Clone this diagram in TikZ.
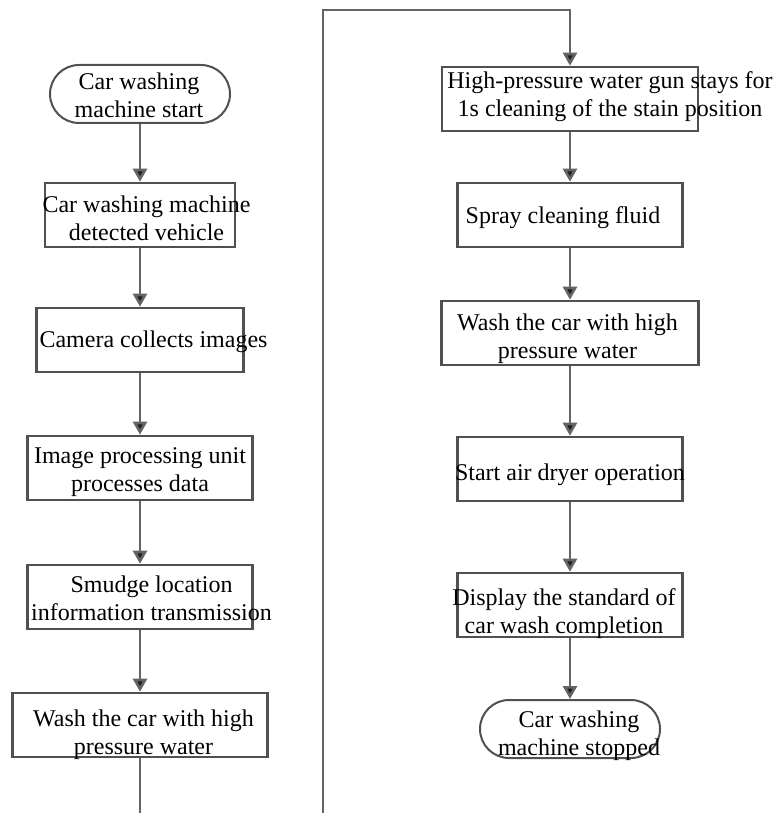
\documentclass[tikz,border=0pt]{standalone}
\usepackage{fontspec}
\setmainfont{Liberation Serif}
\usetikzlibrary{arrows.meta}
\definecolor{boxgray}{RGB}{80,80,80}
\definecolor{linegray}{RGB}{100,100,100}
\definecolor{tipgray}{RGB}{30,30,30}
% text placed freely over a box of fixed size: shift right, baseline of first line below centre
\newcommand{\boxtext}[3]{\makebox[0pt]{\hspace*{#1}\raisebox{#2}[0pt][0pt]{\begin{tabular}[t]{@{}c@{}}#3\end{tabular}}}}
\tikzset{
    stepbox/.style={draw=boxgray, line width=2.6pt, inner sep=0pt, minimum height=64pt},
    termbox/.style={draw=boxgray, line width=2pt, rounded corners=29pt, inner sep=0pt, minimum width=180pt, minimum height=58pt},
    flow/.style={draw=linegray, line width=2.6pt, -{Triangle[length=13pt,width=14pt,fill=tipgray]}}
}
\begin{document}
\begin{tikzpicture}[x=1pt, y=-1pt, font=\fontsize{24}{28}\selectfont]
    \useasboundingbox (0,0) rectangle (774,813);
    % left column
    \node[termbox] (start) at (140,94) {\boxtext{-2pt}{4pt}{Car washing\\machine start}};
    \node[stepbox, minimum width=190pt] (detect) at (140,215) {\boxtext{13pt}{3pt}{Car washing machine\\detected vehicle}};
    \node[stepbox, minimum width=207pt] (camera) at (140,340) {\boxtext{27pt}{-7pt}{Camera collects images}};
    \node[stepbox, minimum width=225pt] (process) at (140,468) {\boxtext{0pt}{5pt}{Image processing unit\\processes data}};
    \node[stepbox, minimum width=225pt] (smudge) at (140,597) {\boxtext{23pt}{5pt}{Smudge location\\information transmission}};
    \node[stepbox, minimum width=255pt] (washa) at (140,725) {\boxtext{7pt}{-1pt}{Wash the car with high\\pressure water}};
    % right column
    \node[stepbox, minimum width=256pt] (gun) at (570,99) {\boxtext{80pt}{10pt}{High-pressure water gun stays for\\1s cleaning of the stain position}};
    \node[stepbox, minimum width=225pt] (spray) at (570,215) {\boxtext{-14pt}{-8pt}{Spray cleaning fluid}};
    \node[stepbox, minimum width=257pt] (washb) at (570,333) {\boxtext{-5pt}{3pt}{Wash the car with high\\pressure water}};
    \node[stepbox, minimum width=225pt] (dryer) at (570,469) {\boxtext{0pt}{-11pt}{Start air dryer operation}};
    \node[stepbox, minimum width=225pt] (display) at (570,605) {\boxtext{-12pt}{0pt}{Display the standard of\\car wash completion}};
    \node[termbox] (stop) at (570,729) {\boxtext{18pt}{2pt}{Car washing\\machine stopped}};
    \foreach \a/\b in {start/detect, detect/camera, camera/process, process/smudge, smudge/washa,
                       gun/spray, spray/washb, washb/dryer, dryer/display, display/stop}
    {
        \draw[flow] (\a) -- (\b);
    }
    % loop over to the right column
    \coordinate (lowturn) at (323,830);
    \coordinate (topturn) at (323,10);
    \draw[flow] (washa.south) |- (lowturn) -- (topturn) -| (gun.north);
\end{tikzpicture}
\end{document}
